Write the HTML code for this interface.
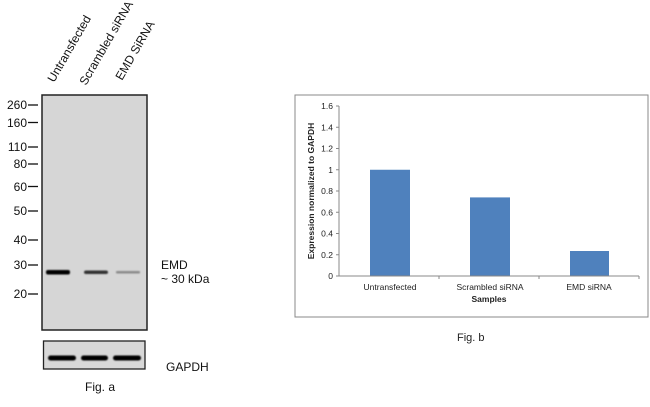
<!DOCTYPE html>
<html><head><style>
body{margin:0;background:#fff;}
svg text{font-family:"Liberation Sans",Arial,sans-serif;}
</style></head><body>
<svg width="650" height="402" viewBox="0 0 650 402" xmlns="http://www.w3.org/2000/svg">
<defs><filter id="b" x="-20%" y="-100%" width="140%" height="300%"><feGaussianBlur stdDeviation="0.9"/></filter></defs>
<g font-size="12" fill="#111">
<text transform="translate(54,83) rotate(-60)">Untransfected</text>
<text transform="translate(86,86) rotate(-60)">Scrambled siRNA</text>
<text transform="translate(122,81) rotate(-60)">EMD SiRNA</text>
</g>
<rect x="42" y="95" width="105" height="235" fill="#d6d6d6" stroke="#222" stroke-width="1.5"/>
<g filter="url(#b)">
<rect x="46" y="270" width="24" height="4.5" rx="2" fill="#050505"/>
<rect x="84" y="270.5" width="24" height="3.5" rx="2" fill="#333"/>
<rect x="116" y="271" width="24" height="2.5" rx="1" fill="#8a8a8a"/>
</g>
<g font-size="12" fill="#111" text-anchor="end">
<text x="27" y="109">260</text><text x="27" y="127">160</text><text x="27" y="151">110</text>
<text x="27" y="168">80</text><text x="27" y="191">60</text><text x="27" y="215">50</text>
<text x="27" y="244">40</text><text x="27" y="269">30</text><text x="27" y="298">20</text>
</g>
<g stroke="#111" stroke-width="1.3">
<line x1="28" y1="105" x2="38" y2="105"/><line x1="28" y1="122.5" x2="38" y2="122.5"/>
<line x1="28" y1="147" x2="38" y2="147"/><line x1="28" y1="164" x2="38" y2="164"/>
<line x1="28" y1="186.5" x2="38" y2="186.5"/><line x1="28" y1="211" x2="38" y2="211"/>
<line x1="28" y1="240" x2="38" y2="240"/><line x1="28" y1="265" x2="38" y2="265"/>
<line x1="28" y1="294" x2="38" y2="294"/>
</g>
<text x="161" y="269" font-size="12" fill="#111">EMD</text>
<text x="161" y="283" font-size="12" fill="#111">~ 30 kDa</text>
<rect x="43.5" y="341" width="101.5" height="28" fill="#d8d8d8" stroke="#222" stroke-width="1.3"/>
<g filter="url(#b)">
<rect x="48" y="355.5" width="28" height="5" rx="2.5" fill="#050505"/>
<rect x="81" y="355.5" width="27" height="5" rx="2.5" fill="#050505"/>
<rect x="113" y="355.5" width="28" height="5" rx="2.5" fill="#050505"/>
</g>
<text x="166" y="371" font-size="12" fill="#111">GAPDH</text>
<text x="85" y="391" font-size="12" fill="#111">Fig. a</text>
<rect x="295" y="95" width="353" height="222" fill="#fff" stroke="#888" stroke-width="1"/>
<g fill="#4f81bd">
<rect x="370" y="169.75" width="40" height="106.25"/>
<rect x="470" y="197.4" width="40" height="78.6"/>
<rect x="570" y="251" width="39" height="25"/>
</g>
<g stroke="#888" stroke-width="1">
<line x1="339" y1="106" x2="339" y2="276"/>
<line x1="339" y1="276" x2="639" y2="276"/>
<line x1="336" y1="106" x2="339" y2="106"/><line x1="336" y1="127.25" x2="339" y2="127.25"/>
<line x1="336" y1="148.5" x2="339" y2="148.5"/><line x1="336" y1="169.75" x2="339" y2="169.75"/>
<line x1="336" y1="191" x2="339" y2="191"/><line x1="336" y1="212.25" x2="339" y2="212.25"/>
<line x1="336" y1="233.5" x2="339" y2="233.5"/><line x1="336" y1="254.75" x2="339" y2="254.75"/>
<line x1="336" y1="276" x2="339" y2="276"/>
<line x1="439" y1="276" x2="439" y2="279"/><line x1="539" y1="276" x2="539" y2="279"/><line x1="639" y1="276" x2="639" y2="279"/>
</g>
<g font-size="8.5" fill="#222" text-anchor="end">
<text x="333" y="109">1.6</text><text x="333" y="130.25">1.4</text><text x="333" y="151.5">1.2</text>
<text x="333" y="172.75">1</text><text x="333" y="194">0.8</text><text x="333" y="215.25">0.6</text>
<text x="333" y="236.5">0.4</text><text x="333" y="257.75">0.2</text><text x="333" y="279">0</text>
</g>
<g font-size="8.5" fill="#222" text-anchor="middle">
<text x="390" y="290">Untransfected</text>
<text x="490" y="290">Scrambled siRNA</text>
<text x="589" y="290">EMD siRNA</text>
<text x="489" y="302" font-weight="bold">Samples</text>
</g>
<text transform="translate(314,191) rotate(-90)" font-size="8.5" font-weight="bold" fill="#222" text-anchor="middle">Expression normalized to GAPDH</text>
<text x="457" y="341" font-size="11" fill="#222">Fig. b</text>
</svg>
</body></html>
